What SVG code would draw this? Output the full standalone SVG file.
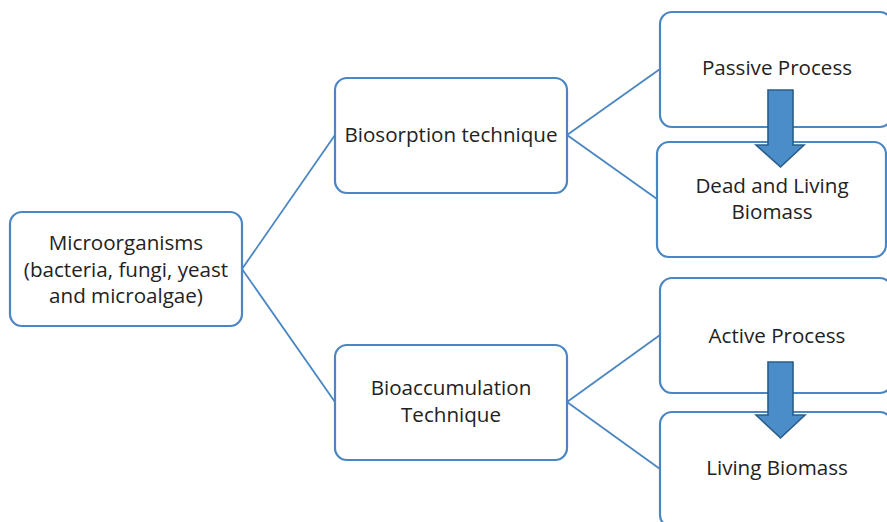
<svg xmlns="http://www.w3.org/2000/svg" width="887" height="522" viewBox="0 0 887 522">
  <style>
    .box { fill: #ffffff; stroke: #4a86c2; stroke-width: 2.2; }
    .link { stroke: #4a86c2; stroke-width: 1.8; fill: none; }
    .label { font-family: "Open Sans", "Liberation Sans", sans-serif; font-size: 20.6px; fill: #222222; text-anchor: middle; }
    .flow { fill: #4a8dc8; stroke: #2b5d88; stroke-width: 1.6; stroke-linejoin: miter; }
  </style>

  <!-- connectors -->
  <g id="connectors">
    <path class="link" d="M242,269 L335,135"/>
    <path class="link" d="M242,269 L335,402"/>
    <path class="link" d="M567,135 L660,69"/>
    <path class="link" d="M567,135 L657,199"/>
    <path class="link" d="M567,402 L660,335"/>
    <path class="link" d="M567,402 L660,469"/>
  </g>

  <g id="microorganisms">
    <rect class="box" x="10" y="212" width="232" height="114" rx="12"/>
    <text class="label" x="126" y="250">Microorganisms</text>
    <text class="label" x="126" y="277">(bacteria, fungi, yeast</text>
    <text class="label" x="126" y="303">and microalgae)</text>
  </g>

  <g id="biosorption">
    <rect class="box" x="335" y="78" width="232" height="115" rx="12"/>
    <text class="label" x="451" y="142">Biosorption technique</text>
  </g>

  <g id="bioaccumulation">
    <rect class="box" x="335" y="345" width="232" height="115" rx="12"/>
    <text class="label" x="451" y="395">Bioaccumulation</text>
    <text class="label" x="451" y="422">Technique</text>
  </g>

  <g id="passive">
    <rect class="box" x="660" y="12" width="232" height="115" rx="12"/>
    <text class="label" x="777" y="75">Passive Process</text>
  </g>

  <g id="dead-living">
    <rect class="box" x="657" y="142" width="229" height="115" rx="12"/>
    <text class="label" x="772" y="193">Dead and Living</text>
    <text class="label" x="772" y="219">Biomass</text>
  </g>

  <g id="active">
    <rect class="box" x="660" y="278" width="232" height="115" rx="12"/>
    <text class="label" x="777" y="343">Active Process</text>
  </g>

  <g id="living">
    <rect class="box" x="660" y="412" width="232" height="115" rx="12"/>
    <text class="label" x="777" y="475">Living Biomass</text>
  </g>

  <!-- block arrows between the process boxes -->
  <g id="arrow-passive">
    <path class="flow" d="M768,90 L793,90 L793,145 L804,145 L780.5,167 L756,145 L768,145 Z"/>
  </g>
  <g id="arrow-active">
    <path class="flow" d="M768,362 L793,362 L793,415 L805,415 L780.5,438 L756,415 L768,415 Z"/>
  </g>
</svg>
